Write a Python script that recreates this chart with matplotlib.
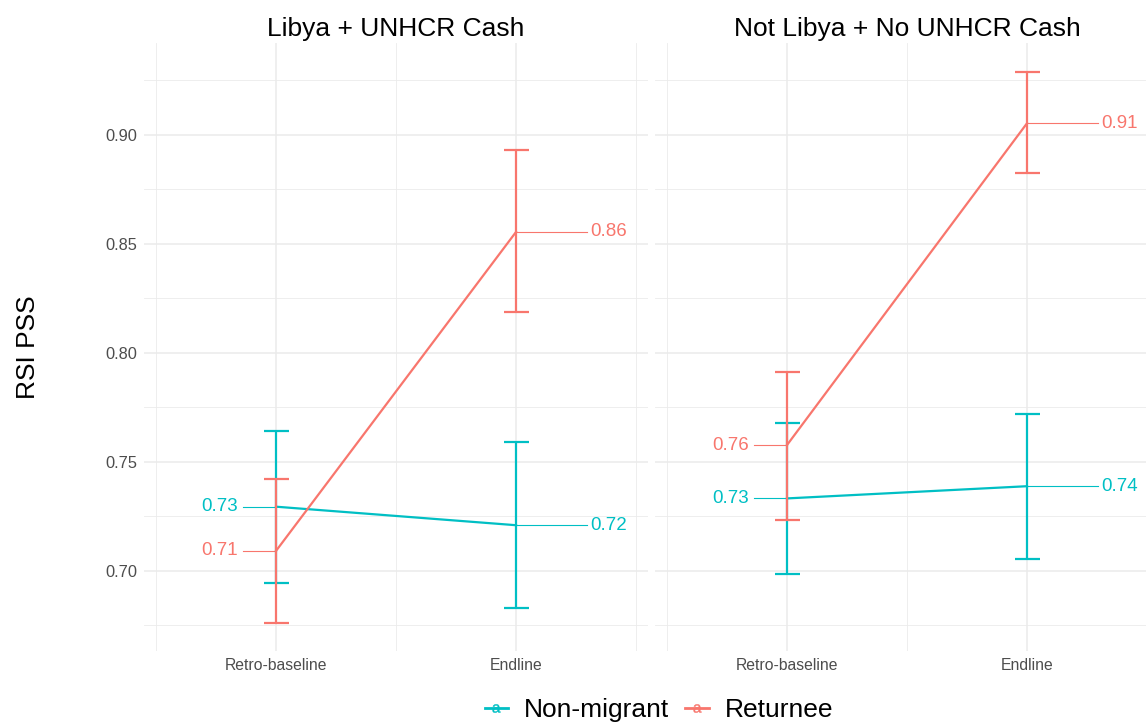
import matplotlib
matplotlib.use("Agg")
import matplotlib.pyplot as plt
from matplotlib.lines import Line2D
from matplotlib.ticker import FixedLocator

plt.rcParams['font.family'] = ['Liberation Sans', 'DejaVu Sans']

# data
panels = ["Libya + UNHCR Cash", "Not Libya + No UNHCR Cash"]
waves = ["Retro-baseline", "Endline"]
groups = ["Non-migrant", "Returnee"]
colors = {"Non-migrant": "#00BFC4", "Returnee": "#F8766D"}

# mean, lower, upper per panel / group, ordered as waves
mean = {
    (0, "Non-migrant"): [0.7293, 0.7208],
    (0, "Returnee"): [0.7090, 0.8554],
    (1, "Non-migrant"): [0.7331, 0.7387],
    (1, "Returnee"): [0.7576, 0.9053],
}
lower = {
    (0, "Non-migrant"): [0.6943, 0.6828],
    (0, "Returnee"): [0.6758, 0.8187],
    (1, "Non-migrant"): [0.6983, 0.7051],
    (1, "Returnee"): [0.7233, 0.8826],
}
upper = {
    (0, "Non-migrant"): [0.7642, 0.7590],
    (0, "Returnee"): [0.7420, 0.8931],
    (1, "Non-migrant"): [0.7677, 0.7720],
    (1, "Returnee"): [0.7911, 0.9287],
}

W, H = 1146, 722
fig = plt.figure(figsize=(W / 100, H / 100), dpi=100)

grid_col = "#EBEBEB"
x = [1, 2]

for p, title in enumerate(panels):
    left_px = 144 if p == 0 else 655
    ax = fig.add_axes([left_px / W, (H - 650.7) / H, 504 / W, 607.4 / H])
    ax.set_xlim(0.45, 2.55)
    ax.set_ylim(0.6632, 0.942)
    for s in ax.spines.values():
        s.set_visible(False)
    ax.yaxis.set_major_locator(FixedLocator([0.70, 0.75, 0.80, 0.85, 0.90]))
    ax.yaxis.set_minor_locator(FixedLocator([0.675, 0.725, 0.775, 0.825, 0.875, 0.925]))
    ax.xaxis.set_major_locator(FixedLocator(x))
    ax.xaxis.set_minor_locator(FixedLocator([0.5, 1.5, 2.5]))
    ax.set_xticklabels(waves)
    ax.grid(which="major", color=grid_col, lw=1.1, zorder=0)
    ax.grid(which="minor", color=grid_col, lw=0.6, zorder=0)
    ax.set_axisbelow(True)
    ax.tick_params(which="both", length=0)
    ax.tick_params(axis="x", labelsize=11.3, labelcolor="#4D4D4D", pad=5)
    ax.tick_params(axis="y", labelsize=11.8, labelcolor="#4D4D4D", pad=5)
    if p == 0:
        ax.set_yticklabels(["0.70", "0.75", "0.80", "0.85", "0.90"])
        ax.set_ylabel("RSI PSS", fontsize=19, labelpad=47)
    else:
        ax.set_yticklabels([])
    ax.set_title(title, fontsize=19, pad=5)

    for g in groups:
        c = colors[g]
        m = mean[(p, g)]
        lo = [mi - l for mi, l in zip(m, lower[(p, g)])]
        hi = [u - mi for mi, u in zip(m, upper[(p, g)])]
        ax.plot(x, m, color=c, lw=1.6, zorder=3)
        ax.errorbar(x, m, yerr=[lo, hi], fmt="none", ecolor=c, elinewidth=1.6,
                    capsize=9, capthick=1.6, zorder=3)
        # value labels with leader segments
        ax.plot([0.862, x[0]], [m[0], m[0]], color=c, lw=0.8, zorder=2)
        ax.text(0.843, m[0], f"{m[0]:.2f}", color=c, fontsize=13.5,
                ha="right", va="center")
        ax.plot([x[1], 2.296], [m[1], m[1]], color=c, lw=0.8, zorder=2)
        ax.text(2.309, m[1], f"{m[1]:.2f}", color=c, fontsize=13.5,
                ha="left", va="center")

handles = [Line2D([], [], color=colors[g], lw=2, marker=r"$\mathregular{a}$",
                  markersize=6, markeredgewidth=0.3)
           for g in groups]
fig.legend(handles, groups, loc="center", bbox_to_anchor=(0.575, 1 - 710 / H),
           ncol=2, frameon=False, fontsize=19, handlelength=0.9,
           handletextpad=0.6, columnspacing=0.6, borderpad=0)

fig.savefig("out.png", dpi=100)
